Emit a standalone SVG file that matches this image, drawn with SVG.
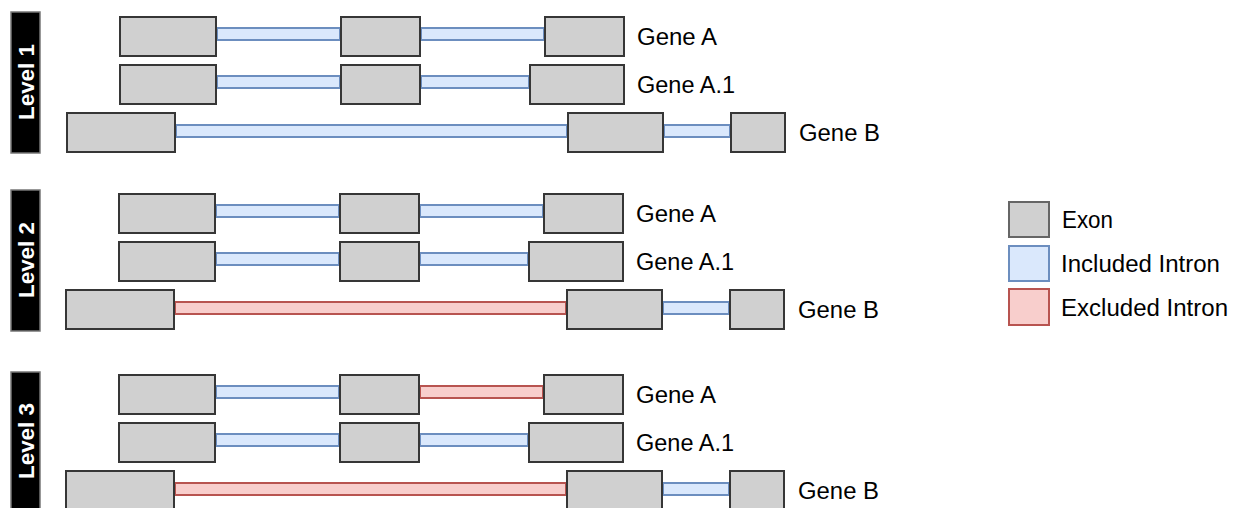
<svg xmlns="http://www.w3.org/2000/svg" width="1237" height="508" viewBox="0 0 1237 508">
  <style>
    .exon { fill: #d0d0d0; stroke: #363636; stroke-width: 2; }
    .inc { fill: #dae8fc; stroke: #6c8ebf; stroke-width: 2; }
    .exc { fill: #f8cecc; stroke: #b85450; stroke-width: 2; }
    .lvl { fill: #000000; stroke: #777777; stroke-width: 1.5; }
    .lvltxt { font-family: "Liberation Sans", Arial, sans-serif; font-weight: bold; font-size: 22px; fill: #ffffff; }
    .lbl { font-family: "Liberation Sans", Arial, sans-serif; font-size: 23px; fill: #000000; }
    .legexon { fill: #d0d0d0; stroke: #666666; stroke-width: 2; }
  </style>

  <!-- Level 1 -->
  <g id="level1">
    <rect class="lvl" x="11" y="12" width="29" height="141"/>
    <text class="lvltxt" transform="translate(33.5,82) rotate(-90)" text-anchor="middle" textLength="76" lengthAdjust="spacingAndGlyphs">Level 1</text>
  </g>
  <g id="l1-gene-a">
    <rect class="inc" x="217" y="28" width="123" height="12"/>
    <rect class="inc" x="421" y="28" width="123" height="12"/>
    <rect class="exon" x="120" y="17" width="96" height="39"/>
    <rect class="exon" x="341" y="17" width="79" height="39"/>
    <rect class="exon" x="545" y="17" width="79" height="39"/>
    <text class="lbl" x="637" y="45" textLength="80" lengthAdjust="spacingAndGlyphs">Gene A</text>
  </g>
  <g id="l1-gene-a1">
    <rect class="inc" x="217" y="76" width="123" height="12"/>
    <rect class="inc" x="421" y="76" width="108" height="12"/>
    <rect class="exon" x="120" y="65" width="96" height="39"/>
    <rect class="exon" x="341" y="65" width="79" height="39"/>
    <rect class="exon" x="530" y="65" width="94" height="39"/>
    <text class="lbl" x="637" y="93" textLength="98" lengthAdjust="spacingAndGlyphs">Gene A.1</text>
  </g>
  <g id="l1-gene-b">
    <rect class="inc" x="176" y="125" width="391" height="12"/>
    <rect class="inc" x="664" y="125" width="66" height="12"/>
    <rect class="exon" x="67" y="113" width="108" height="39"/>
    <rect class="exon" x="568" y="113" width="95" height="39"/>
    <rect class="exon" x="731" y="113" width="54" height="39"/>
    <text class="lbl" x="799" y="141" textLength="81" lengthAdjust="spacingAndGlyphs">Gene B</text>
  </g>

  <!-- Level 2 -->
  <g id="level2">
    <rect class="lvl" x="11" y="190" width="29" height="141"/>
    <text class="lvltxt" transform="translate(33.5,260) rotate(-90)" text-anchor="middle" textLength="76" lengthAdjust="spacingAndGlyphs">Level 2</text>
  </g>
  <g id="l2-gene-a" transform="translate(-1,177)">
    <rect class="inc" x="217" y="28" width="123" height="12"/>
    <rect class="inc" x="421" y="28" width="123" height="12"/>
    <rect class="exon" x="120" y="17" width="96" height="39"/>
    <rect class="exon" x="341" y="17" width="79" height="39"/>
    <rect class="exon" x="545" y="17" width="79" height="39"/>
    <text class="lbl" x="637" y="45" textLength="80" lengthAdjust="spacingAndGlyphs">Gene A</text>
  </g>
  <g id="l2-gene-a1" transform="translate(-1,177)">
    <rect class="inc" x="217" y="76" width="123" height="12"/>
    <rect class="inc" x="421" y="76" width="108" height="12"/>
    <rect class="exon" x="120" y="65" width="96" height="39"/>
    <rect class="exon" x="341" y="65" width="79" height="39"/>
    <rect class="exon" x="530" y="65" width="94" height="39"/>
    <text class="lbl" x="637" y="93" textLength="98" lengthAdjust="spacingAndGlyphs">Gene A.1</text>
  </g>
  <g id="l2-gene-b" transform="translate(-1,177)">
    <rect class="exc" x="176" y="125" width="391" height="12"/>
    <rect class="inc" x="664" y="125" width="66" height="12"/>
    <rect class="exon" x="67" y="113" width="108" height="39"/>
    <rect class="exon" x="568" y="113" width="95" height="39"/>
    <rect class="exon" x="731" y="113" width="54" height="39"/>
    <text class="lbl" x="799" y="141" textLength="81" lengthAdjust="spacingAndGlyphs">Gene B</text>
  </g>

  <!-- Level 3 -->
  <g id="level3">
    <rect class="lvl" x="11" y="372" width="29" height="141"/>
    <text class="lvltxt" transform="translate(33.5,441) rotate(-90)" text-anchor="middle" textLength="76" lengthAdjust="spacingAndGlyphs">Level 3</text>
  </g>
  <g id="l3-gene-a" transform="translate(-1,358)">
    <rect class="inc" x="217" y="28" width="123" height="12"/>
    <rect class="exc" x="421" y="28" width="123" height="12"/>
    <rect class="exon" x="120" y="17" width="96" height="39"/>
    <rect class="exon" x="341" y="17" width="79" height="39"/>
    <rect class="exon" x="545" y="17" width="79" height="39"/>
    <text class="lbl" x="637" y="45" textLength="80" lengthAdjust="spacingAndGlyphs">Gene A</text>
  </g>
  <g id="l3-gene-a1" transform="translate(-1,358)">
    <rect class="inc" x="217" y="76" width="123" height="12"/>
    <rect class="inc" x="421" y="76" width="108" height="12"/>
    <rect class="exon" x="120" y="65" width="96" height="39"/>
    <rect class="exon" x="341" y="65" width="79" height="39"/>
    <rect class="exon" x="530" y="65" width="94" height="39"/>
    <text class="lbl" x="637" y="93" textLength="98" lengthAdjust="spacingAndGlyphs">Gene A.1</text>
  </g>
  <g id="l3-gene-b" transform="translate(-1,358)">
    <rect class="exc" x="176" y="125" width="391" height="12"/>
    <rect class="inc" x="664" y="125" width="66" height="12"/>
    <rect class="exon" x="67" y="113" width="108" height="39"/>
    <rect class="exon" x="568" y="113" width="95" height="39"/>
    <rect class="exon" x="731" y="113" width="54" height="39"/>
    <text class="lbl" x="799" y="141" textLength="81" lengthAdjust="spacingAndGlyphs">Gene B</text>
  </g>

  <!-- Legend -->
  <g id="legend">
    <rect class="legexon" x="1009" y="202" width="40" height="35"/>
    <text class="lbl" x="1062" y="228" textLength="51" lengthAdjust="spacingAndGlyphs">Exon</text>
    <rect class="inc" x="1009" y="246" width="40" height="35"/>
    <text class="lbl" x="1061" y="272" textLength="159" lengthAdjust="spacingAndGlyphs">Included Intron</text>
    <rect class="exc" x="1009" y="289" width="40" height="36"/>
    <text class="lbl" x="1061" y="316" textLength="167" lengthAdjust="spacingAndGlyphs">Excluded Intron</text>
  </g>

  <!-- no connectors: intron bars belong to their gene rows -->
  <g id="connectors"/>
</svg>
